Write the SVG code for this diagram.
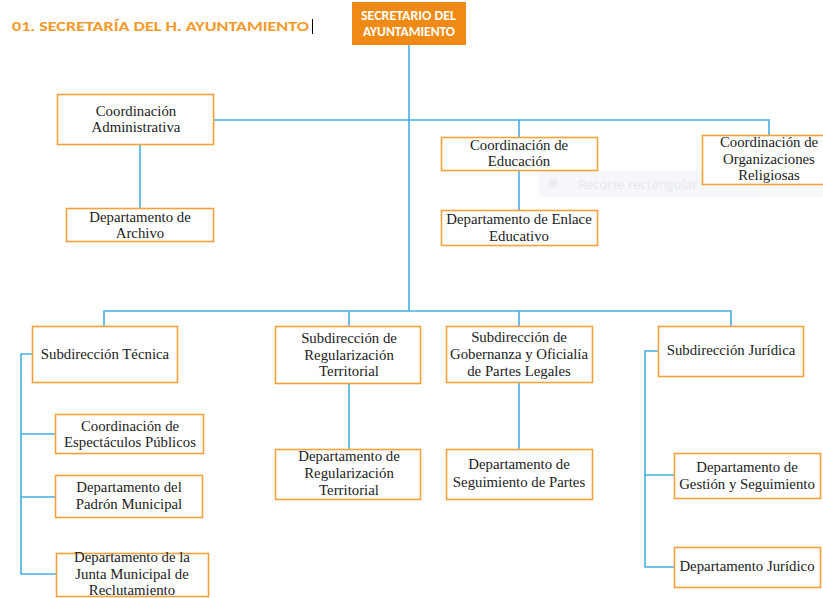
<svg xmlns="http://www.w3.org/2000/svg" width="823" height="598" viewBox="0 0 823 598">
<style>
.box{fill:#fff;stroke:#F5A23C;stroke-width:1.6}
.t{font-family:"Liberation Serif","DejaVu Serif",serif;font-size:14.8px;fill:#222;text-anchor:middle}
.c{fill:none;stroke:#45AEE3;stroke-width:1.6}
.w{font-family:Carlito,"Liberation Sans",sans-serif;font-size:13px;font-weight:bold;fill:#fff}
</style>
<rect width="823" height="598" fill="#fff"/>
<text x="12" y="31" font-family="Carlito,'Open Sans','Liberation Sans',sans-serif" font-size="14.5" font-weight="bold" fill="#F39A2B" textLength="297" lengthAdjust="spacingAndGlyphs">01. SECRETARÍA DEL H. AYUNTAMIENTO</text>
<line x1="312.5" y1="19" x2="312.5" y2="34" stroke="#000" stroke-width="1"/>
<g id="ghost" opacity="0.9">
<rect x="539" y="170" width="290" height="27" fill="#F5F7FA"/>
<rect x="549" y="179" width="8" height="8" fill="#E9EDF2"/>
<text x="578" y="189" font-family="'Open Sans','Liberation Sans',sans-serif" font-size="13" fill="#E4E7EC">Recorte rectangular</text>
</g>
<g id="connectors">
<path class="c" d="M409 45V311"/>
<path class="c" d="M214 120H769V135M519 120V137"/>
<path class="c" d="M140 145V208"/>
<path class="c" d="M519 171V210"/>
<path class="c" d="M104 326V311H731V326M349 311V326M519 311V326"/>
<path class="c" d="M32 354H21V574H56M21 434H55M21 497H55"/>
<path class="c" d="M349 384V449"/>
<path class="c" d="M519 383V449"/>
<path class="c" d="M658 351H645V567H674M645 475H674"/>
</g>
<g id="secretario">
<rect x="352" y="2" width="114" height="43" fill="#EF8B14"/>
<text class="w" x="361" y="20" textLength="95" lengthAdjust="spacingAndGlyphs">SECRETARIO DEL</text>
<text class="w" x="363" y="36" textLength="92" lengthAdjust="spacingAndGlyphs">AYUNTAMIENTO</text>
</g>
<g id="coord-admin"><rect class="box" x="57.5" y="94.5" width="156" height="50"/><text class="t" x="136" y="116">Coordinación</text><text class="t" x="136" y="132">Administrativa</text></g>
<g id="depto-archivo"><rect class="box" x="66.5" y="208.5" width="147" height="33"/><text class="t" x="140" y="222">Departamento de</text><text class="t" x="140" y="238">Archivo</text></g>
<g id="coord-educacion"><rect class="box" x="441.5" y="137.5" width="156" height="33"/><text class="t" x="519" y="150">Coordinación de</text><text class="t" x="519" y="166">Educación</text></g>
<g id="depto-enlace"><rect class="box" x="441.5" y="210.5" width="156" height="35"/><text class="t" x="519" y="224">Departamento de Enlace</text><text class="t" x="519" y="241">Educativo</text></g>
<g id="coord-religiosas"><rect class="box" x="702.5" y="135.5" width="134" height="49"/><text class="t" x="769" y="147">Coordinación de</text><text class="t" x="769" y="164">Organizaciones</text><text class="t" x="769" y="180">Religiosas</text></g>
<g id="sub-tecnica"><rect class="box" x="32.5" y="326.5" width="145" height="56"/><text class="t" x="105" y="359">Subdirección Técnica</text></g>
<g id="sub-regularizacion"><rect class="box" x="275.5" y="326.5" width="145" height="57"/><text class="t" x="349" y="343">Subdirección de</text><text class="t" x="349" y="360">Regularización</text><text class="t" x="349" y="376">Territorial</text></g>
<g id="sub-gobernanza"><rect class="box" x="446.5" y="326.5" width="146" height="56"/><text class="t" x="519" y="342">Subdirección de</text><text class="t" x="519" y="359">Gobernanza y Oficialía</text><text class="t" x="519" y="376">de Partes Legales</text></g>
<g id="sub-juridica"><rect class="box" x="658.5" y="326.5" width="145" height="50"/><text class="t" x="731" y="355">Subdirección Jurídica</text></g>
<g id="coord-espectaculos"><rect class="box" x="55.5" y="414.5" width="148" height="39"/><text class="t" x="130" y="431">Coordinación de</text><text class="t" x="130" y="447">Espectáculos Públicos</text></g>
<g id="depto-padron"><rect class="box" x="55.5" y="475.5" width="147" height="42"/><text class="t" x="129" y="492">Departamento del</text><text class="t" x="129" y="509">Padrón Municipal</text></g>
<g id="depto-junta"><rect class="box" x="56.5" y="553.5" width="152" height="43"/><text class="t" x="132" y="562">Departamento de la</text><text class="t" x="132" y="579">Junta Municipal de</text><text class="t" x="132" y="595">Reclutamiento</text></g>
<g id="depto-regularizacion"><rect class="box" x="275.5" y="449.5" width="145" height="50"/><text class="t" x="349" y="461">Departamento de</text><text class="t" x="349" y="478">Regularización</text><text class="t" x="349" y="495">Territorial</text></g>
<g id="depto-seguimiento"><rect class="box" x="446.5" y="449.5" width="146" height="50"/><text class="t" x="519" y="469">Departamento de</text><text class="t" x="519" y="487">Seguimiento de Partes</text></g>
<g id="depto-gestion"><rect class="box" x="674.5" y="453.5" width="146" height="45"/><text class="t" x="747" y="472">Departamento de</text><text class="t" x="747" y="489">Gestión y Seguimiento</text></g>
<g id="depto-juridico"><rect class="box" x="674.5" y="547.5" width="146" height="40"/><text class="t" x="747" y="571">Departamento Jurídico</text></g>
</svg>
